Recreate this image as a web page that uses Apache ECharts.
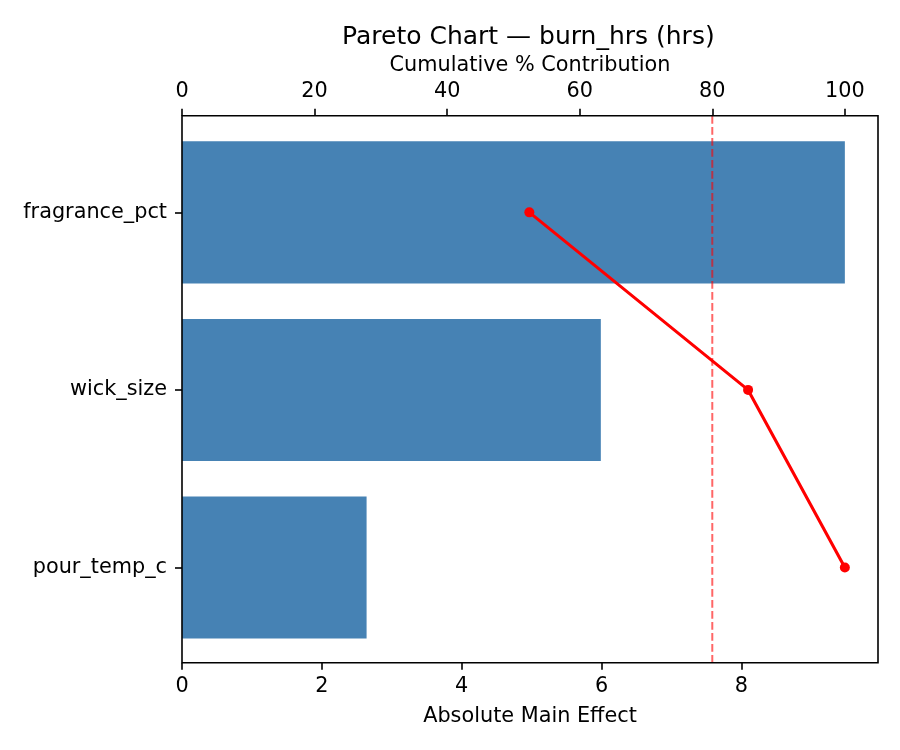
<!DOCTYPE html>
<html>
<head>
<meta charset="utf-8">
<title>Pareto Chart</title>
<script src="https://cdn.jsdelivr.net/npm/echarts@6/dist/echarts.min.js"></script>
<style>
    html, body { margin: 0; padding: 0; background: #fff; }
    #chart { width: 900px; height: 750px; }
</style>
</head>
<body>
<div id="chart"></div>
<script>
// factors, sorted by effect (largest first, shown at top)
const factors = ['fragrance_pct', 'wick_size', 'pour_temp_c'];
const absEffect = [9.48, 5.99, 2.64];
const cumPct = [52.4, 85.4, 100];
const threshold = 80;

// tick labels
const effectTicks = [0, 2, 4, 6, 8];
const pctTicks = [0, 20, 40, 60, 80, 100];

const FONT = 'DejaVu Sans';
const labelSize = 20.8;

const chart = echarts.init(document.getElementById('chart'));

const tickStyle = {
    show: true,
    length: 7,
    lineStyle: { color: '#000', width: 1.6 }
};

const option = {
    animation: false,
    backgroundColor: '#fff',
    textStyle: { fontFamily: FONT },
    title: {
        text: 'Pareto Chart \u2014 burn_hrs (hrs)',
        left: 342,
        top: 25,
        padding: 0,
        textStyle: {
            fontFamily: FONT,
            fontSize: 25,
            fontWeight: 'normal',
            color: '#000'
        }
    },
    grid: [
        // frame (full axes box)
        {
            left: 182, top: 115.7, width: 696, height: 547,
            show: true,
            z: 10,
            borderColor: '#000',
            borderWidth: 1.6,
            backgroundColor: 'transparent'
        },
        // data area (category bands)
        {
            left: 182, top: 123.6, width: 696, height: 532.6
        }
    ],
    xAxis: [
        {
            gridIndex: 1,
            type: 'value',
            position: 'bottom',
            min: 0,
            max: 9.954,
            interval: 2,
            offset: 6.5,
            name: 'Absolute Main Effect',
            nameLocation: 'middle',
            nameGap: 43,
            nameTextStyle: { fontFamily: FONT, fontSize: labelSize, color: '#000' },
            axisLine: { show: false },
            axisTick: Object.assign({ customValues: effectTicks }, tickStyle),
            axisLabel: {
                customValues: effectTicks,
                margin: 13.5,
                fontFamily: FONT,
                fontSize: labelSize,
                color: '#000'
            },
            splitLine: { show: false }
        },
        {
            gridIndex: 1,
            type: 'value',
            position: 'top',
            min: 0,
            max: 105,
            interval: 20,
            offset: 7.9,
            name: 'Cumulative % Contribution',
            nameLocation: 'middle',
            nameGap: 34.5,
            nameTextStyle: { fontFamily: FONT, fontSize: labelSize, color: '#000' },
            axisLine: { show: false },
            axisTick: Object.assign({ customValues: pctTicks }, tickStyle),
            axisLabel: {
                customValues: pctTicks,
                margin: 13.5,
                fontFamily: FONT,
                fontSize: labelSize,
                color: '#000'
            },
            splitLine: { show: false }
        },
        {
            gridIndex: 0,
            type: 'value',
            min: 0,
            max: 105,
            show: false
        }
    ],
    yAxis: [
        {
            gridIndex: 1,
            type: 'category',
            inverse: true,
            data: factors,
            axisLine: { show: false },
            axisTick: Object.assign({ alignWithLabel: true }, tickStyle),
            axisLabel: {
                margin: 15,
                fontFamily: FONT,
                fontSize: labelSize,
                color: '#000'
            },
            splitLine: { show: false }
        },
        {
            gridIndex: 0,
            type: 'value',
            min: 0,
            max: 1,
            show: false
        }
    ],
    series: [
        {
            name: 'Absolute Main Effect',
            type: 'bar',
            xAxisIndex: 0,
            yAxisIndex: 0,
            data: absEffect,
            barWidth: '80%',
            itemStyle: { color: '#4682b4' },
            z: 1
        },
        {
            name: '80% line',
            type: 'line',
            xAxisIndex: 2,
            yAxisIndex: 1,
            data: [[threshold, 0], [threshold, 1]],
            symbol: 'none',
            lineStyle: {
                color: 'rgba(255, 0, 0, 0.6)',
                width: 2,
                type: [7.7, 3.3]
            },
            z: 3
        },
        {
            name: 'Cumulative %',
            type: 'line',
            xAxisIndex: 1,
            yAxisIndex: 0,
            data: factors.map((f, i) => [cumPct[i], f]),
            symbol: 'circle',
            symbolSize: 10,
            lineStyle: { color: '#ff0000', width: 3.1 },
            itemStyle: { color: '#ff0000' },
            z: 4
        }
    ]
};

chart.setOption(option);

window.addEventListener('resize', function() {
    chart.resize();
});
</script>
</body>
</html>
